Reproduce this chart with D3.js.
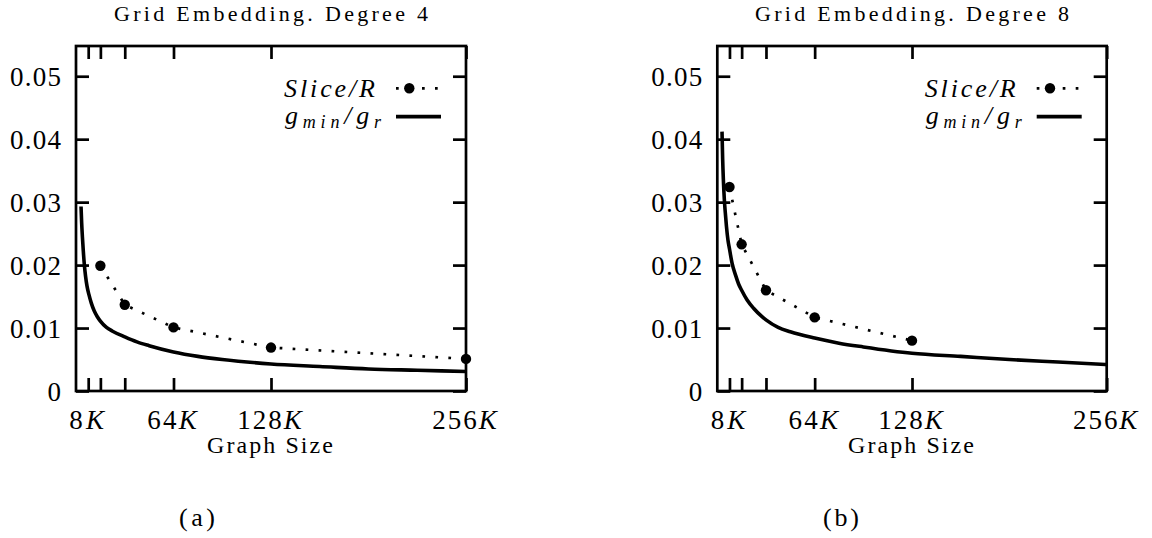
<!DOCTYPE html>
<html>
<head>
<meta charset="utf-8">
<script src="https://cdn.jsdelivr.net/npm/d3@7"></script>
<style>
  html, body { margin: 0; padding: 0; background: #fff; }
  svg { display: block; }
</style>
</head>
<body>
<svg id="chart" width="1152" height="538"></svg>
<script>
// ---------------- data ----------------
const titles = ["Grid Embedding. Degree 4", "Grid Embedding. Degree 8"];
const captions = ["(a)", "(b)"];
const xLabel = "Graph Size";
const legendSlice = "Slice/R";

const xTickValues = [8, 16, 32, 64, 128, 256];            // graph size in K
const xTickLabels = ["8K", "", "", "64K", "128K", "256K"];
const yTickValues = [0, 0.01, 0.02, 0.03, 0.04, 0.05];
const yTickLabels = ["0", "0.01", "0.02", "0.03", "0.04", "0.05"];

// panel (a): degree 4
const sliceSizesA = [16, 32, 64, 128, 256];
const sliceValuesA = [0.0199, 0.0137, 0.0101, 0.0069, 0.0051];
const gSizesA = [3.3, 3.7, 4.2, 4.8, 5.5, 6.3, 7.2, 8.5, 10, 12, 14, 16, 20, 24, 32, 40, 48, 64, 80, 96, 128, 160, 192, 224, 256];
const gValuesA = [0.0293, 0.0268, 0.0245, 0.0222, 0.0200, 0.0182, 0.0167, 0.0153, 0.0140, 0.0127, 0.0118, 0.0111, 0.0101, 0.0095, 0.0086, 0.0078, 0.0072, 0.0062, 0.0055, 0.0050, 0.0043, 0.0039, 0.0035, 0.0033, 0.0031];

// panel (b): degree 8
const sliceSizesB = [8, 16, 32, 64, 128];
const sliceValuesB = [0.0324, 0.0233, 0.0160, 0.0117, 0.0080];
const gSizesB = [3.1, 3.5, 4, 4.6, 5.3, 6, 7, 8, 9.7, 12, 14, 16, 19.5, 24, 29.4, 32, 40, 48, 64, 80, 96, 128, 160, 192, 224, 256];
const gValuesB = [0.0412, 0.0370, 0.0335, 0.0305, 0.0282, 0.0262, 0.0240, 0.0226, 0.0203, 0.0184, 0.0170, 0.0160, 0.0145, 0.0131, 0.0118, 0.0113, 0.0101, 0.0094, 0.0084, 0.0076, 0.0070, 0.0060, 0.0055, 0.0050, 0.0046, 0.0042];

// ---------------- layout ----------------
const FONT = "Liberation Serif";
const svg = d3.select("#chart");
const plotTop = 46, plotBottom = 391;
const frameW = 2.7;
const panels = [
  { left: 76, right: 466, title: titles[0], caption: captions[0], capX: 197,
    sx: sliceSizesA, sy: sliceValuesA, gx: gSizesA, gy: gValuesA },
  { left: 717.3, right: 1106.7, title: titles[1], caption: captions[1], capX: 841,
    sx: sliceSizesB, sy: sliceValuesB, gx: gSizesB, gy: gValuesB }
];

const y = d3.scaleLinear().domain([0, 0.0548]).range([plotBottom, plotTop]);

function stretch(sel, factor) {
  sel.each(function () {
    const w = this.getComputedTextLength();
    if (w > 0) d3.select(this).attr("textLength", w * factor).attr("lengthAdjust", "spacing");
  });
}

function txt(g, x, yy, size, anchor) {
  return g.append("text").attr("x", x).attr("y", yy)
    .attr("font-family", FONT).attr("font-size", size)
    .attr("text-anchor", anchor).attr("fill", "#000");
}

panels.forEach(p => {
  const x = d3.scaleLinear().domain([0, 256]).range([p.left, p.right]);
  const g = svg.append("g");
  const cx = (p.left + p.right) / 2;

  // title
  txt(g, cx, 21, 22, "middle").text(p.title)
    .attr("textLength", 314).attr("lengthAdjust", "spacing");

  // axes (ticks pointing inward)
  const axL = g.append("g").attr("transform", `translate(${p.left},0)`)
    .call(d3.axisLeft(y).tickValues(yTickValues).tickFormat((d, i) => yTickLabels[i])
      .tickSizeInner(-13).tickSizeOuter(0).tickPadding(15));
  axL.attr("font-family", FONT).attr("font-size", 27);
  axL.selectAll("text").attr("dy", null).attr("y", 9.5)
    .attr("font-family", FONT).attr("font-size", 27).attr("fill", "#000");
  stretch(axL.selectAll("text"), 1.08);

  g.append("g").attr("transform", `translate(${p.right},0)`)
    .call(d3.axisRight(y).tickValues(yTickValues).tickFormat("")
      .tickSizeInner(-13).tickSizeOuter(0));

  g.append("g").attr("transform", `translate(0,${plotTop})`)
    .call(d3.axisTop(x).tickValues(xTickValues).tickFormat("")
      .tickSizeInner(-13).tickSizeOuter(0));

  const axB = g.append("g").attr("transform", `translate(0,${plotBottom})`)
    .call(d3.axisBottom(x).tickValues(xTickValues).tickFormat((d, i) => xTickLabels[i])
      .tickSizeInner(-13).tickSizeOuter(0).tickPadding(38));
  axB.attr("font-family", FONT).attr("font-size", 27);
  axB.selectAll("text").attr("dy", null).attr("dx", -2)
    .attr("font-family", FONT).attr("font-size", 27).attr("fill", "#000")
    .each(function () {
      const t = d3.select(this);
      const s = t.text();
      if (!s) return;
      t.text(null);
      t.append("tspan").text(s.slice(0, -1));
      t.append("tspan").attr("font-style", "italic").text(s.slice(-1));
    });
  stretch(axB.selectAll("text"), 1.1);

  g.selectAll(".domain").remove();
  g.selectAll(".tick line").attr("stroke", "#000").attr("stroke-width", frameW);

  // frame
  g.append("rect").attr("x", p.left).attr("y", plotTop)
    .attr("width", p.right - p.left).attr("height", plotBottom - plotTop)
    .attr("fill", "none").attr("stroke", "#000").attr("stroke-width", frameW);

  // x label
  txt(g, cx - 1, 453, 24, "middle").text(xLabel)
    .attr("textLength", 126).attr("lengthAdjust", "spacing");

  // caption
  txt(g, p.capX, 526, 26, "middle").text(p.caption)
    .attr("textLength", 36).attr("lengthAdjust", "spacing");

  // g_min/g_r curve
  const gData = p.gx.map((v, i) => [v, p.gy[i]]);
  g.append("path").datum(gData)
    .attr("d", d3.line().x(d => x(d[0])).y(d => y(d[1])).curve(d3.curveMonotoneX))
    .attr("fill", "none").attr("stroke", "#000").attr("stroke-width", 3.6)
    .attr("stroke-linejoin", "round");

  // Slice/R dotted line + dots
  const sData = p.sx.map((v, i) => [v, p.sy[i]]);
  g.append("path").datum(sData)
    .attr("d", d3.line().x(d => x(d[0])).y(d => y(d[1])))
    .attr("fill", "none").attr("stroke", "#000").attr("stroke-width", 2.7)
    .attr("stroke-dasharray", "2.7 10.3");
  g.selectAll("circle.pt").data(sData).enter().append("circle")
    .attr("class", "pt").attr("cx", d => x(d[0])).attr("cy", d => y(d[1]))
    .attr("r", 5.2).attr("fill", "#000");

  // legend
  const lx = p.right - 91;       // text right edge
  const s0 = p.right - 70, s1 = p.right - 25;
  txt(g, lx, 96.5, 26, "end").attr("font-style", "italic")
    .text(legendSlice).attr("textLength", 91).attr("lengthAdjust", "spacing");
  g.append("line").attr("x1", s0).attr("x2", s1).attr("y1", 88.3).attr("y2", 88.3)
    .attr("stroke", "#000").attr("stroke-width", 2.7).attr("stroke-dasharray", "2.7 10.3");
  g.append("circle").attr("cx", s0 + 13.3).attr("cy", 88.3).attr("r", 5.2).attr("fill", "#000");

  const t2 = txt(g, lx + 6, 124, 26, "end").attr("font-style", "italic");
  t2.append("tspan").text("g");
  t2.append("tspan").attr("font-size", 18).attr("dy", 4).text("min");
  t2.append("tspan").attr("dy", -4).text("/");
  t2.append("tspan").text("g");
  t2.append("tspan").attr("font-size", 18).attr("dy", 4).text("r");
  t2.attr("textLength", 96).attr("lengthAdjust", "spacing");
  g.append("line").attr("x1", s0).attr("x2", s1).attr("y1", 116.7).attr("y2", 116.7)
    .attr("stroke", "#000").attr("stroke-width", 3.8);
});
</script>
</body>
</html>
